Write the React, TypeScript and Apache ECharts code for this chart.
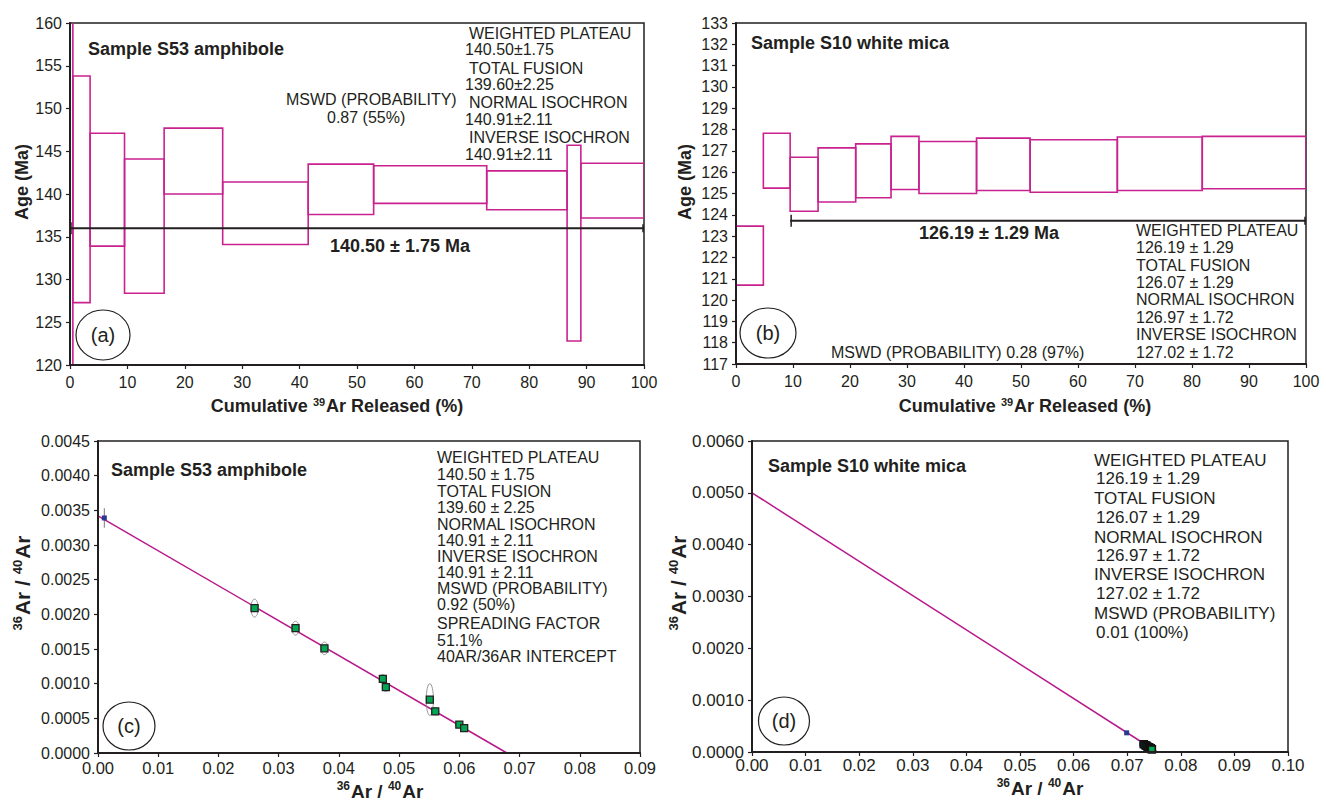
import React, { useEffect, useRef } from "react";
import * as echarts from "echarts";

const FONT = "'Liberation Sans', Arial, Helvetica, sans-serif";
const INK = "#231f20";
const MAGENTA = "#c8228f";
const LINE_MAG = "#b7198c";
const GREEN = "#00a651";
const BLUE = "#2b3990";

// ---------- Panel (a): S53 amphibole age spectrum [cum% from, cum% to, age low, age high]
const stepsA = [
  [0, 0.5, 100, 180],
  [0.5, 3.5, 127.3, 153.8],
  [3.5, 9.5, 133.9, 147.1],
  [9.5, 16.4, 128.4, 144.1],
  [16.4, 26.6, 140.0, 147.7],
  [26.6, 41.5, 134.1, 141.4],
  [41.5, 52.9, 137.6, 143.5],
  [52.9, 72.6, 138.9, 143.3],
  [72.6, 86.6, 138.15, 142.7],
  [86.6, 89.0, 122.8, 145.7],
  [89.0, 100, 137.2, 143.6],
];
const plateauA = [[0, 100, 136.0]];

// ---------- Panel (b): S10 white mica age spectrum
const stepsB = [
  [0, 4.8, 120.7, 123.47],
  [4.8, 9.5, 125.25, 127.83],
  [9.5, 14.4, 124.17, 126.7],
  [14.4, 21.0, 124.6, 127.14],
  [21.0, 27.2, 124.8, 127.33],
  [27.2, 32.1, 125.19, 127.68],
  [32.1, 42.2, 125.0, 127.44],
  [42.2, 51.6, 125.14, 127.6],
  [51.6, 66.9, 125.06, 127.52],
  [66.9, 81.8, 125.14, 127.65],
  [81.8, 100, 125.22, 127.68],
];
const plateauB = [[9.5, 100, 123.72]];

// ---------- Panel (c): S53 isochron
const isoLineC = [[0, 0.00342], [0.0679, 0]];
const pointsC = [
  [0.026, 0.00209],
  [0.0328, 0.0018],
  [0.0376, 0.00151],
  [0.0473, 0.00107],
  [0.0478, 0.00095],
  [0.0551, 0.00077],
  [0.056, 0.0006],
  [0.06, 0.00041],
  [0.0608, 0.00036],
];
const ellipseHalfC = [
  [0.0006, 0.00013],
  [0.0006, 0.0001],
  [0.0006, 0.00009],
  [0.0006, 0.00006],
  [0.0006, 0.00006],
  [0.0006, 0.00023],
  [0.0006, 0.00005],
  [0.0006, 0.00004],
  [0.0006, 0.00004],
];
const blueC = [[0.00105, 0.00339]];
const blueErrC = [0.00014];

// ---------- Panel (d): S10 isochron
const isoLineD = [[0, 0.005], [0.0756, 0]];
const blueD = [[0.0699, 0.00037], [0.0727, 0.00015]];
const pointsD = [
  [0.0731, 0.00015],
  [0.0734, 0.00013],
  [0.0736, 0.00012],
  [0.0738, 0.0001],
  [0.074, 0.00009],
  [0.0742, 0.00008],
  [0.0744, 0.00007],
  [0.0746, 0.00005],
];

// ---------- Text blocks
const infoA = [
  "WEIGHTED PLATEAU", "140.50±1.75", "TOTAL FUSION", "139.60±2.25",
  "NORMAL ISOCHRON", "140.91±2.11", "INVERSE ISOCHRON", "140.91±2.11",
];
const infoAy = [33, 49, 68, 84, 102, 119, 137, 154];
const infoB = [
  "WEIGHTED PLATEAU", "126.19 ± 1.29", "TOTAL FUSION", "126.07 ± 1.29",
  "NORMAL ISOCHRON", "126.97 ± 1.72", "INVERSE ISOCHRON", "127.02 ± 1.72",
];
const infoBy = [230, 247, 265, 282, 299, 317, 334, 352];
const infoC = [
  "WEIGHTED PLATEAU", "140.50 ± 1.75", "TOTAL FUSION", "139.60 ± 2.25",
  "NORMAL ISOCHRON", "140.91 ± 2.11", "INVERSE ISOCHRON", "140.91 ± 2.11",
  "MSWD (PROBABILITY)", "0.92 (50%)", "SPREADING FACTOR", "51.1%", "40AR/36AR INTERCEPT",
];
const infoCy = [457, 474, 491, 507, 524, 540, 556, 572, 588, 604, 623, 640, 656];
const infoD = [
  "WEIGHTED PLATEAU", "126.19 ± 1.29", "TOTAL FUSION", "126.07 ± 1.29",
  "NORMAL ISOCHRON", "126.97 ± 1.72", "INVERSE ISOCHRON", "127.02 ± 1.72",
  "MSWD (PROBABILITY)", "0.01 (100%)",
];
const infoDy = [460, 478, 498, 517, 537, 555, 574, 593, 613, 632];

function valAxis(gridIndex: number, min: number, max: number, interval: number, fmt: (v: number) => string, fontSize: number, margin: number) {
  return {
    type: "value",
    gridIndex,
    min,
    max,
    interval,
    z: 5,
    axisLine: { show: true, onZero: false, lineStyle: { color: INK, width: 2 } },
    axisTick: { show: true, length: 4, lineStyle: { color: INK, width: 1.2 } },
    axisLabel: { color: INK, fontFamily: FONT, fontSize, margin, formatter: fmt, showMaxLabel: true, showMinLabel: true },
    splitLine: { show: false },
  };
}

function stepSeries(data: number[][], axis: number, clip: boolean) {
  return {
    type: "custom",
    xAxisIndex: axis,
    yAxisIndex: axis,
    clip,
    z: 3,
    encode: { x: [0, 1], y: [2, 3] },
    data,
    renderItem: (_p: any, api: any) => {
      const a = api.coord([api.value(0), api.value(3)]);
      const b = api.coord([api.value(1), api.value(2)]);
      return {
        type: "rect",
        shape: { x: a[0], y: a[1], width: b[0] - a[0], height: b[1] - a[1] },
        style: { fill: "none", stroke: MAGENTA, lineWidth: 1.6 },
      };
    },
  };
}

function plateauSeries(data: number[][], axis: number) {
  return {
    type: "custom",
    xAxisIndex: axis,
    yAxisIndex: axis,
    z: 4,
    encode: { x: [0, 1], y: 2 },
    data,
    renderItem: (_p: any, api: any) => {
      const a = api.coord([api.value(0), api.value(2)]);
      const b = api.coord([api.value(1), api.value(2)]);
      const st = { stroke: INK, lineWidth: 2 };
      return {
        type: "group",
        children: [
          { type: "line", shape: { x1: a[0], y1: a[1], x2: b[0], y2: b[1] }, style: st },
          { type: "line", shape: { x1: a[0] + 1, y1: a[1] - 6, x2: a[0] + 1, y2: a[1] + 6 }, style: { stroke: INK, lineWidth: 1.5 } },
          { type: "line", shape: { x1: b[0] - 1, y1: b[1] - 4, x2: b[0] - 1, y2: b[1] + 4 }, style: { stroke: INK, lineWidth: 1.5 } },
        ],
      };
    },
  };
}

function txt(text: string, x: number, y: number, size: number, opts: any = {}) {
  return {
    type: "text",
    x,
    y,
    rotation: opts.rotation || 0,
    z: 20,
    style: {
      text,
      fill: INK,
      fontFamily: FONT,
      fontSize: size,
      fontWeight: opts.bold ? "bold" : "normal",
      textAlign: opts.align || "left",
      textVerticalAlign: "middle",
      rich: opts.rich,
    },
  };
}

function richAxis(size: number) {
  const supSize = Math.round(size * 0.62);
  return {
    b: { fontFamily: FONT, fontSize: size, fontWeight: "bold", fill: INK, color: INK, verticalAlign: "bottom", lineHeight: size + 2 },
    sup: {
      fontFamily: FONT,
      fontSize: supSize,
      fontWeight: "bold",
      fill: INK,
      color: INK,
      verticalAlign: "bottom",
      lineHeight: supSize,
      padding: [0, 1, Math.round(size * 0.45), 0],
    },
  };
}

function ell(cx: number, cy: number, rx: number, ry: number, label: string) {
  return [
    { type: "ellipse", z: 20, shape: { cx, cy, rx, ry }, style: { fill: "none", stroke: INK, lineWidth: 1.2 } },
    txt(label, cx, cy, 20, { align: "center" }),
  ];
}

export default function App() {
  const ref = useRef<HTMLDivElement>(null);

  useEffect(() => {
    document.body.style.margin = "0";
    const chart = echarts.init(ref.current!, null, { renderer: "svg" });

    const graphic: any[] = [];
    // titles
    graphic.push(txt("Sample S53 amphibole", 88, 49, 18, { bold: true }));
    graphic.push(txt("Sample S10 white mica", 751, 43, 18, { bold: true }));
    graphic.push(txt("Sample S53 amphibole", 111, 470, 18, { bold: true }));
    graphic.push(txt("Sample S10 white mica", 768, 466, 18, { bold: true }));
    // info blocks
    infoA.forEach((t, i) => graphic.push(txt(t, i % 2 === 0 ? 469 : 465, infoAy[i], 16)));
    infoB.forEach((t, i) => graphic.push(txt(t, 1136, infoBy[i], 16)));
    infoC.forEach((t, i) => graphic.push(txt(t, 437, infoCy[i], 16)));
    infoD.forEach((t, i) => graphic.push(txt(t, i % 2 === 0 ? 1094 : 1096, infoDy[i], 17)));
    // MSWD
    graphic.push(txt("MSWD (PROBABILITY)", 286, 99, 16));
    graphic.push(txt("0.87 (55%)", 327, 117, 16));
    graphic.push(txt("MSWD (PROBABILITY) 0.28 (97%)", 831, 352, 16));
    // plateau labels
    graphic.push(txt("140.50 ± 1.75 Ma", 400, 246, 18, { bold: true, align: "center" }));
    graphic.push(txt("126.19 ± 1.29 Ma", 989, 233, 18, { bold: true, align: "center" }));
    // panel letters
    graphic.push(...ell(103, 335, 27, 25, "(a)"));
    graphic.push(...ell(768, 333, 28, 25, "(b)"));
    graphic.push(...ell(129, 726, 26, 24, "(c)"));
    graphic.push(...ell(784, 721, 25.5, 24, "(d)"));
    // axis titles
    const cum = "{b|Cumulative }{sup|39}{b|Ar Released (%)}";
    const ratio = "{sup|36}{b|Ar / }{sup|40}{b|Ar}";
    graphic.push(txt(cum, 337, 405, 18, { align: "center", rich: richAxis(18) }));
    graphic.push(txt(cum, 1025, 405, 18, { align: "center", rich: richAxis(18) }));
    graphic.push(txt("Age (Ma)", 22, 182, 18, { bold: true, align: "center", rotation: Math.PI / 2 }));
    graphic.push(txt("Age (Ma)", 685, 182, 18, { bold: true, align: "center", rotation: Math.PI / 2 }));
    graphic.push(txt(ratio, 380, 790, 19, { align: "center", rich: richAxis(19) }));
    graphic.push(txt(ratio, 1040, 787, 19, { align: "center", rich: richAxis(19) }));
    graphic.push(txt(ratio, 21, 583, 21, { align: "center", rotation: Math.PI / 2, rich: richAxis(21) }));
    graphic.push(txt(ratio, 677, 583, 21, { align: "center", rotation: Math.PI / 2, rich: richAxis(21) }));

    const gridStyle = { show: true, borderColor: INK, borderWidth: 1.5, backgroundColor: "transparent" };
    const f0 = (v: number) => String(Math.round(v));
    const f2 = (v: number) => v.toFixed(2);
    const f4 = (v: number) => v.toFixed(4);

    chart.setOption({
      animation: false,
      backgroundColor: "#ffffff",
      grid: [
        { left: 70, top: 23, width: 574, height: 342, ...gridStyle },
        { left: 736, top: 23, width: 570, height: 341, ...gridStyle },
        { left: 98, top: 441, width: 542, height: 312, ...gridStyle },
        { left: 752, top: 441, width: 536, height: 311, ...gridStyle },
      ],
      xAxis: [
        valAxis(0, 0, 100, 10, f0, 16, 9),
        valAxis(1, 0, 100, 10, f0, 16, 9),
        valAxis(2, 0, 0.09, 0.01, f2, 16.5, 6),
        valAxis(3, 0, 0.1, 0.01, f2, 17, 5),
      ],
      yAxis: [
        valAxis(0, 120, 160, 5, f0, 16, 8),
        valAxis(1, 117, 133, 1, f0, 16, 8),
        valAxis(2, 0, 0.0045, 0.0005, f4, 16, 8),
        valAxis(3, 0, 0.006, 0.001, f4, 17, 8),
      ],
      graphic,
      series: [
        stepSeries(stepsA, 0, true),
        plateauSeries(plateauA, 0),
        stepSeries(stepsB, 1, true),
        plateauSeries(plateauB, 1),
        // panel c
        {
          type: "line",
          xAxisIndex: 2,
          yAxisIndex: 2,
          data: isoLineC,
          symbol: "none",
          z: 2,
          lineStyle: { color: LINE_MAG, width: 1.5 },
        },
        {
          type: "custom",
          xAxisIndex: 2,
          yAxisIndex: 2,
          z: 3,
          data: pointsC.map((p, i) => [p[0], p[1], ellipseHalfC[i][0], ellipseHalfC[i][1]]),
          encode: { x: 0, y: 1 },
          renderItem: (_p: any, api: any) => {
            const c = api.coord([api.value(0), api.value(1)]);
            const s = api.size([api.value(2), api.value(3)]);
            return {
              type: "ellipse",
              shape: { cx: c[0], cy: c[1], rx: s[0], ry: s[1] },
              style: { fill: "none", stroke: "#8c8c8c", lineWidth: 0.9 },
            };
          },
        },
        {
          type: "custom",
          xAxisIndex: 2,
          yAxisIndex: 2,
          z: 3,
          data: blueC.map((p, i) => [p[0], p[1], blueErrC[i]]),
          encode: { x: 0, y: 1 },
          renderItem: (_p: any, api: any) => {
            const a = api.coord([api.value(0), api.value(1) + api.value(2)]);
            const b = api.coord([api.value(0), api.value(1) - api.value(2)]);
            return {
              type: "line",
              shape: { x1: a[0], y1: a[1], x2: b[0], y2: b[1] },
              style: { stroke: "#7a7a7a", lineWidth: 1 },
            };
          },
        },
        {
          type: "scatter",
          xAxisIndex: 2,
          yAxisIndex: 2,
          data: pointsC,
          symbol: "rect",
          symbolSize: 7,
          z: 4,
          itemStyle: { color: GREEN, borderColor: INK, borderWidth: 1.3, opacity: 1 },
        },
        {
          type: "scatter",
          xAxisIndex: 2,
          yAxisIndex: 2,
          data: blueC,
          symbol: "rect",
          symbolSize: 5,
          z: 4,
          itemStyle: { color: BLUE, opacity: 1 },
        },
        // panel d
        {
          type: "line",
          xAxisIndex: 3,
          yAxisIndex: 3,
          data: isoLineD,
          symbol: "none",
          z: 2,
          lineStyle: { color: LINE_MAG, width: 1.5 },
        },
        {
          type: "scatter",
          xAxisIndex: 3,
          yAxisIndex: 3,
          data: blueD,
          symbol: "rect",
          symbolSize: 5,
          z: 4,
          itemStyle: { color: BLUE, opacity: 1 },
        },
        {
          type: "scatter",
          xAxisIndex: 3,
          yAxisIndex: 3,
          data: pointsD,
          symbol: "rect",
          symbolSize: 7,
          z: 4,
          itemStyle: { color: GREEN, borderColor: "#111111", borderWidth: 1.6, opacity: 1 },
        },
      ],
    });

    return () => chart.dispose();
  }, []);

  return <div ref={ref} style={{ width: 1326, height: 801 }} />;
}
